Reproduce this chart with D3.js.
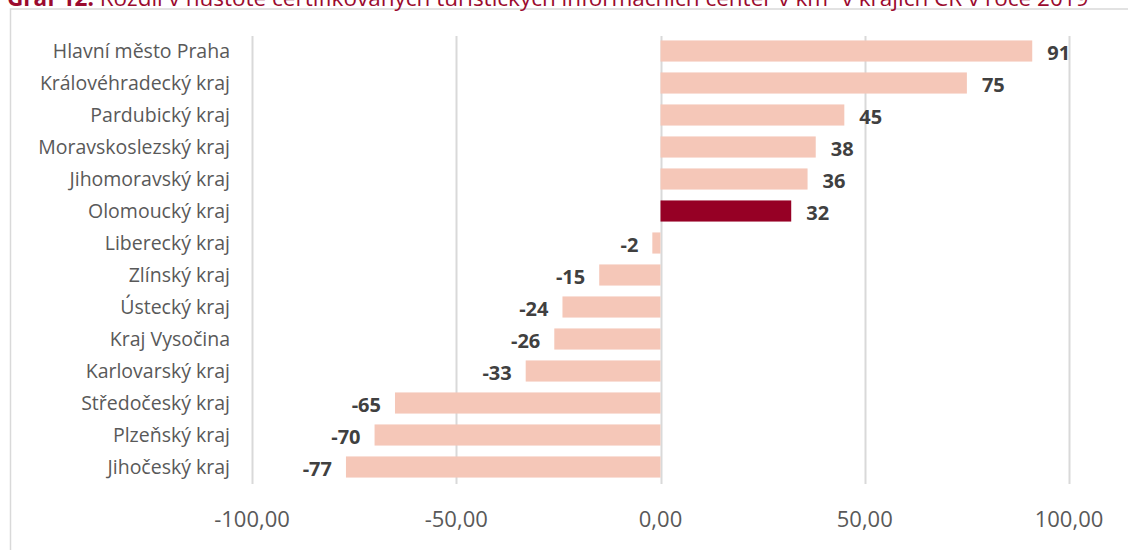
<!DOCTYPE html>
<html>
<head>
<meta charset="utf-8">
<script src="https://cdn.jsdelivr.net/npm/d3@7"></script>
<style>
  body { margin: 0; background: #fff; }
  svg { display: block; }
</style>
</head>
<body>
<svg></svg>
<script>
  // Data
  const regions = ["Hlavní město Praha", "Královéhradecký kraj", "Pardubický kraj", "Moravskoslezský kraj",
    "Jihomoravský kraj", "Olomoucký kraj", "Liberecký kraj", "Zlínský kraj", "Ústecký kraj",
    "Kraj Vysočina", "Karlovarský kraj", "Středočeský kraj", "Plzeňský kraj", "Jihočeský kraj"];
  const values = [91, 75, 45, 38, 36, 32, -2, -15, -24, -26, -33, -65, -70, -77];
  const highlight = ["Olomoucký kraj"];
  const ticks = [-100, -50, 0, 50, 100];

  const width = 1128;
  const height = 550;
  const font = "'Open Sans', 'Noto Sans', sans-serif";

  const svg = d3.select("svg")
      .attr("width", width)
      .attr("height", height)
      .style("font-family", font);

  // frame
  svg.append("path")
      .attr("d", `M10.5,${height} V9 H${width}`)
      .attr("fill", "none")
      .attr("stroke", "#d9d9d9")
      .attr("stroke-width", 1.5);

  // title (cut off at top in the original)
  const title = svg.append("text")
      .attr("x", 7)
      .attr("y", 6)
      .attr("fill", "#9b0a2e")
      .style("font-size", "22.5px");
  title.append("tspan").attr("font-weight", "bold").text("Graf 12: ");
  title.append("tspan").text("Rozdíl v hustotě certifikovaných turistických informačních center v km² v krajích ČR v roce 2019");

  const x = d3.scaleLinear().domain([-100, 100]).range([252, 1069]);
  const y = d3.scaleBand().domain(regions).range([35, 483]).paddingInner(0.34).paddingOuter(0.17);

  // gridlines
  svg.append("g")
    .selectAll("line")
    .data(ticks)
    .join("line")
      .attr("x1", d => Math.round(x(d)) + 0.5)
      .attr("x2", d => Math.round(x(d)) + 0.5)
      .attr("y1", 36)
      .attr("y2", 484)
      .attr("stroke", "#d9d9d9")
      .attr("stroke-width", 2);

  // bars
  svg.append("g")
    .selectAll("rect")
    .data(values)
    .join("rect")
      .attr("x", d => x(Math.min(0, d)))
      .attr("width", d => Math.abs(x(d) - x(0)))
      .attr("y", (d, i) => y(regions[i]))
      .attr("height", y.bandwidth())
      .attr("fill", (d, i) => highlight.includes(regions[i]) ? "#960025" : "#f5c7b8");

  // value labels
  svg.append("g")
      .style("font-size", "20px")
      .style("font-weight", "bold")
      .attr("fill", "#404040")
    .selectAll("text")
    .data(values)
    .join("text")
      .attr("x", d => d >= 0 ? x(d) + 15 : x(d) - 14)
      .attr("y", (d, i) => y(regions[i]) + y.bandwidth() / 2 + 8.5)
      .attr("text-anchor", d => d >= 0 ? "start" : "end")
      .text(d => d);

  // category labels
  svg.append("g")
      .style("font-size", "19.5px")
      .attr("fill", "#595959")
    .selectAll("text")
    .data(regions)
    .join("text")
      .attr("x", 230)
      .attr("y", d => y(d) + y.bandwidth() / 2 + 7)
      .attr("text-anchor", "end")
      .text(d => d);

  // x axis tick labels
  const fmt = d3.formatLocale({ decimal: ",", thousands: " ", grouping: [3], currency: ["", ""], minus: "-" }).format(".2f");
  svg.append("g")
      .style("font-size", "22px")
      .attr("fill", "#595959")
    .selectAll("text")
    .data(ticks)
    .join("text")
      .attr("x", d => x(d))
      .attr("y", 527)
      .attr("text-anchor", "middle")
      .text(d => fmt(d));
</script>
</body>
</html>
